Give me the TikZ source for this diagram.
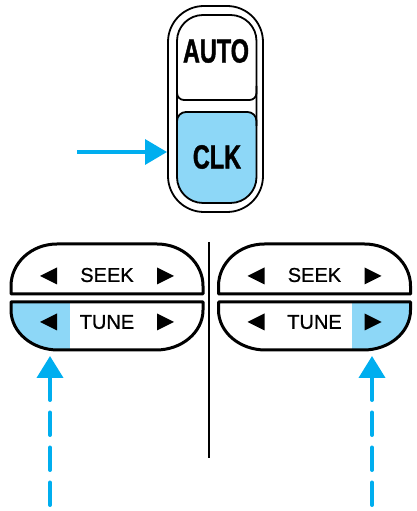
\documentclass[tikz,border=0pt]{standalone}
\usepackage{fontspec}
\setmainfont{Liberation Sans}
\newfontfamily\keyfont[FakeStretch=0.7,FakeBold=1.2]{Liberation Sans}
\newfontfamily\btnfont[FakeStretch=1.0,FakeBold=0.8]{Liberation Sans}
\usetikzlibrary{arrows.meta}
\definecolor{arrowcyan}{HTML}{00AEEF}
\definecolor{keyblue}{HTML}{8DD7F7}
\begin{document}
\begin{tikzpicture}[x=1pt,y=1pt,
  swline/.style={line width=1.8pt,draw=black},
  btnline/.style={line width=3pt,draw=black,line join=round},
  keylabel/.style={font=\keyfont\bfseries\fontsize{33.5}{33.5}\selectfont,inner sep=0pt},
  btnlabel/.style={font=\btnfont\fontsize{20}{20}\selectfont,inner sep=0pt},
  tri/.style={fill=black},
  solidarrow/.style={draw=arrowcyan,line width=3.5pt,-{Triangle[length=22pt,width=25pt]}},
  dasharrow/.style={draw=arrowcyan,line width=4pt,line cap=round,dash pattern=on 22.5pt off 12.5pt,-{Triangle[length=22pt,width=26pt]}},
  divider/.style={line width=2pt,draw=black}]
\useasboundingbox (0,0) rectangle (417,511);

% ---- top switch ----
\fill[keyblue] (177,390) -- (177,334) arc[start angle=180,end angle=270,radius=26]
  -- (230.5,308) arc[start angle=270,end angle=360,radius=26]
  -- (256.5,390) arc[start angle=0,end angle=90,radius=9]
  -- (186,399) arc[start angle=90,end angle=180,radius=9] -- cycle;
\draw[swline,rounded corners=9] (177,385) -- (177,399) -- (256.5,399) -- (256.5,385);
\draw[swline,rounded corners=7] (177,425) -- (177,411) -- (256.5,411) -- (256.5,425);
\draw[swline,rounded corners=26] (177,308) rectangle (256.5,496);
\draw[swline,rounded corners=36] (168,299) rectangle (263,505);
\node[keylabel] (auto) at (216,460) {AUTO};
\node[keylabel] (clk) at (217,354) {CLK};

\coordinate (clkfrom) at (77,359);
\coordinate (clkto) at (167,359);
\draw[solidarrow] (clkfrom) -- (clkto);

% ---- divider ----
\coordinate (divtop) at (209,269);
\coordinate (divbot) at (209,53);
\draw[divider] (divtop) -- (divbot);

% ---- button groups ----
\foreach \c/\fa/\fb/\n in {107/0/70/L, 314.5/352/417/R}{
  % tune blue part
  \begin{scope}
    \clip ({\c-96},209) -- ({\c-96},201) arc[start angle=180,end angle=270,x radius=47,y radius=40]
      -- ({\c+49},161) arc[start angle=270,end angle=360,x radius=47,y radius=40]
      -- ({\c+96},209) -- cycle;
    \fill[keyblue] (\fa,150) rectangle (\fb,215);
  \end{scope}
  % seek outline
  \draw[btnline] ({\c-96},217) -- ({\c-96},225) arc[start angle=180,end angle=90,x radius=46,y radius=42]
      -- ({\c+50},267) arc[start angle=90,end angle=0,x radius=46,y radius=42]
      -- ({\c+96},217) -- cycle;
  % tune outline
  \draw[btnline] ({\c-96},209) -- ({\c-96},201) arc[start angle=180,end angle=270,x radius=47,y radius=40]
      -- ({\c+49},161) arc[start angle=270,end angle=360,x radius=47,y radius=40]
      -- ({\c+96},209) -- cycle;
  \node[btnlabel] (seek\n) at (\c,236) {SEEK};
  \node[btnlabel] (tune\n) at (\c,189) {TUNE};
  \foreach \ty in {235,189}{
    \fill[tri] ({\c-67},\ty) -- ({\c-50},{\ty+8.5}) -- ({\c-50},{\ty-8.5}) -- cycle;
    \fill[tri] ({\c+67},\ty) -- ({\c+50},{\ty+8.5}) -- ({\c+50},{\ty-8.5}) -- cycle;
  }
}

% ---- dashed arrows ----
\coordinate (dashLfrom) at (50,6);
\coordinate (dashLto) at (50,155);
\coordinate (dashRfrom) at (372,6);
\coordinate (dashRto) at (372,155);
\draw[dasharrow] (dashLfrom) -- (dashLto);
\draw[dasharrow] (dashRfrom) -- (dashRto);
\end{tikzpicture}
\end{document}
